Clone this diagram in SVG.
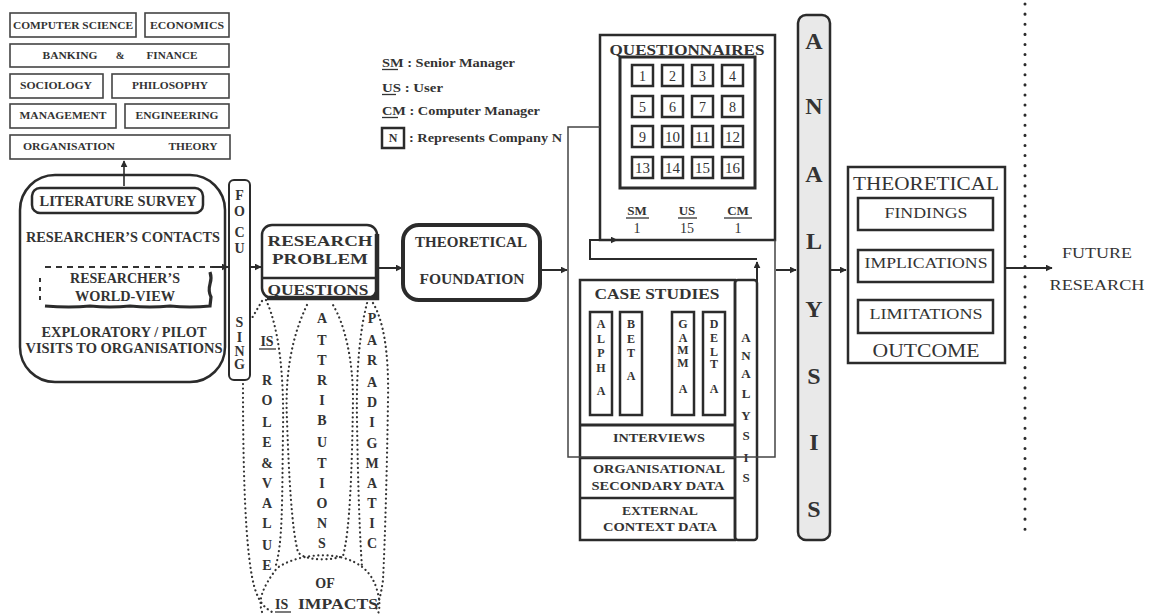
<svg xmlns="http://www.w3.org/2000/svg" width="1150" height="614" viewBox="0 0 1150 614">
<defs>
<marker id="ah" viewBox="0 0 10 10" refX="9" refY="5" markerWidth="7" markerHeight="7" markerUnits="userSpaceOnUse" orient="auto"><path d="M0,0 L10,5 L0,10 z" fill="#2b2b2b"/></marker>
<style>
.t{font-family:"Liberation Serif","Times New Roman",serif;font-weight:bold;fill:#333;text-anchor:middle}
.r{font-family:"Liberation Serif","Times New Roman",serif;font-weight:normal;fill:#333;text-anchor:middle}
.l{text-anchor:start}
.b{fill:none;stroke:#2b2b2b;stroke-width:2.5}
.thin{fill:none;stroke:#444;stroke-width:1.6}
.c{fill:none;stroke:#2b2b2b;stroke-width:2}
.dot{fill:none;stroke:#333;stroke-width:2.2;stroke-dasharray:0.1 4.5;stroke-linecap:round}
.u{stroke:#333;stroke-width:1.3}
</style>
</defs>
<rect width="1150" height="614" fill="#fff"/>

<g id="disciplines">
<rect class="thin" x="10" y="13" width="126" height="24"/>
<text class="t" x="73" y="29" font-size="10.5" textLength="120" lengthAdjust="spacingAndGlyphs">COMPUTER SCIENCE</text>
<rect class="thin" x="145" y="13" width="84" height="24"/>
<text class="t" x="187" y="29" font-size="10.5" textLength="74" lengthAdjust="spacingAndGlyphs">ECONOMICS</text>
<rect class="thin" x="10" y="44" width="219" height="23"/>
<text class="t" x="70" y="59" font-size="10.5" textLength="55" lengthAdjust="spacingAndGlyphs">BANKING</text>
<text class="t" x="120" y="59" font-size="10.5">&amp;</text>
<text class="t" x="172" y="59" font-size="10.5" textLength="51" lengthAdjust="spacingAndGlyphs">FINANCE</text>
<rect class="thin" x="10" y="74" width="93" height="24"/>
<text class="t" x="56" y="89" font-size="10.5" textLength="72" lengthAdjust="spacingAndGlyphs">SOCIOLOGY</text>
<rect class="thin" x="112" y="74" width="117" height="24"/>
<text class="t" x="170" y="89" font-size="10.5" textLength="76" lengthAdjust="spacingAndGlyphs">PHILOSOPHY</text>
<rect class="thin" x="10" y="104" width="106" height="24"/>
<text class="t" x="63" y="119" font-size="10.5" textLength="87" lengthAdjust="spacingAndGlyphs">MANAGEMENT</text>
<rect class="thin" x="125" y="104" width="104" height="24"/>
<text class="t" x="177" y="119" font-size="10.5" textLength="83" lengthAdjust="spacingAndGlyphs">ENGINEERING</text>
<rect class="thin" x="10" y="135" width="220" height="24"/>
<text class="t" x="69" y="150" font-size="10.5" textLength="92" lengthAdjust="spacingAndGlyphs">ORGANISATION</text>
<text class="t" x="193" y="150" font-size="10.5" textLength="49" lengthAdjust="spacingAndGlyphs">THEORY</text>
</g>

<g id="sources">
<rect class="b" x="20" y="175" width="205" height="207" rx="35"/>
<rect class="b" x="32" y="188" width="171" height="25" rx="8"/>
<text class="t" x="118" y="206" font-size="14" textLength="157" lengthAdjust="spacingAndGlyphs">LITERATURE SURVEY</text>
<text class="t" x="123" y="242" font-size="14" textLength="194" lengthAdjust="spacingAndGlyphs">RESEARCHER’S CONTACTS</text>
<path d="M40 278 V304" fill="none" stroke="#333" stroke-width="2" stroke-dasharray="4 5"/>
<path d="M45 267 H214" fill="none" stroke="#333" stroke-width="2.2" stroke-dasharray="6 5"/>
<path d="M210 272 Q212 278 210 284 Q208 291 211 297 L210 306 Q190 308 170 306 Q150 308 130 306 Q110 308 90 306 Q70 308 45 306" fill="none" stroke="#2b2b2b" stroke-width="3.2"/>
<text class="t" x="125" y="283" font-size="14" textLength="110" lengthAdjust="spacingAndGlyphs">RESEARCHER’S</text>
<text class="t" x="125" y="301" font-size="14" textLength="100" lengthAdjust="spacingAndGlyphs">WORLD-VIEW</text>
<text class="t" x="124" y="337" font-size="14" textLength="165" lengthAdjust="spacingAndGlyphs">EXPLORATORY / PILOT</text>
<text class="t" x="124" y="353" font-size="14" textLength="197" lengthAdjust="spacingAndGlyphs">VISITS TO ORGANISATIONS</text>
</g>

<g id="focusing">
<rect class="c" x="229" y="180" width="21" height="200" rx="5"/>
<text class="t" x="239.5" font-size="14"><tspan x="239.5" y="200">F</tspan><tspan x="239.5" y="216">O</tspan><tspan x="239.5" y="237">C</tspan><tspan x="239.5" y="253">U</tspan><tspan x="239.5" y="327">S</tspan><tspan x="239.5" y="342">I</tspan><tspan x="239.5" y="356">N</tspan><tspan x="239.5" y="369">G</tspan></text>
</g>

<g id="research-problem">
<rect class="b" x="262" y="225" width="115" height="73" rx="10"/>
<path d="M377 234 V298 H267" fill="none" stroke="#2b2b2b" stroke-width="4.5"/>
<line x1="262" y1="278" x2="377" y2="278" stroke="#2b2b2b" stroke-width="2.5"/>
<text class="t" x="320" y="246" font-size="14" textLength="105" lengthAdjust="spacingAndGlyphs">RESEARCH</text>
<text class="t" x="320" y="264" font-size="14" textLength="96" lengthAdjust="spacingAndGlyphs">PROBLEM</text>
<text class="t" x="318" y="295" font-size="14" textLength="101" lengthAdjust="spacingAndGlyphs">QUESTIONS</text>
</g>

<g id="is-impacts">
<path class="dot" d="M243 384 C243 450 244 560 256 592 C260 603 265 608 272 612"/>
<path class="dot" d="M266 300 C280 330 284 380 283 430 C282 500 283 545 275 568"/>
<path class="dot" d="M262 301 L252 318"/>
<path class="dot" d="M307 305 C290 340 285 380 287 420 C289 480 292 530 298 552 C305 562 335 560 343 556 C350 530 352 470 353 400 C353 360 345 325 333 305"/>
<path class="dot" d="M367 303 C360 330 356 370 357 420 C358 490 360 540 362 567"/>
<path class="dot" d="M373 303 C383 320 389 350 388 400 C387 470 385 540 383 580 C381 595 378 605 375 612"/>
<path class="dot" d="M262 612 C258 600 262 588 277 568 C295 556 320 553 340 557 C360 562 372 572 377 590 C380 600 380 608 378 614"/>
<text class="t" x="267" y="346" font-size="14">IS</text>
<line class="u" x1="259" y1="349" x2="276" y2="349"/>
<text class="t" font-size="14"><tspan x="267" y="385">R</tspan><tspan x="267" y="405">O</tspan><tspan x="267" y="427">L</tspan><tspan x="267" y="447">E</tspan><tspan x="267" y="468">&amp;</tspan><tspan x="267" y="488">V</tspan><tspan x="267" y="508">A</tspan><tspan x="267" y="528">L</tspan><tspan x="267" y="550">U</tspan><tspan x="267" y="570">E</tspan></text>
<text class="t" font-size="14"><tspan x="322" y="323">A</tspan><tspan x="322" y="345">T</tspan><tspan x="322" y="365">T</tspan><tspan x="322" y="385">R</tspan><tspan x="322" y="405">I</tspan><tspan x="322" y="425">B</tspan><tspan x="322" y="447">U</tspan><tspan x="322" y="468">T</tspan><tspan x="322" y="488">I</tspan><tspan x="322" y="508">O</tspan><tspan x="322" y="528">N</tspan><tspan x="322" y="548">S</tspan></text>
<text class="t" font-size="14"><tspan x="372" y="323">P</tspan><tspan x="372" y="345">A</tspan><tspan x="372" y="365">R</tspan><tspan x="372" y="387">A</tspan><tspan x="372" y="407">D</tspan><tspan x="372" y="427">I</tspan><tspan x="372" y="448">G</tspan><tspan x="372" y="468">M</tspan><tspan x="372" y="488">A</tspan><tspan x="372" y="508">T</tspan><tspan x="372" y="528">I</tspan><tspan x="372" y="548">C</tspan></text>
<text class="t" x="325" y="588" font-size="14">OF</text>
<text class="t l" x="275" y="609" font-size="14">IS</text>
<line class="u" x1="275" y1="612" x2="291" y2="612"/>
<text class="t l" x="298" y="609" font-size="14" textLength="80" lengthAdjust="spacingAndGlyphs">IMPACTS</text>
</g>

<g id="theoretical-foundation">
<rect x="403" y="225" width="137" height="75" rx="16" fill="none" stroke="#2b2b2b" stroke-width="4"/>
<text class="t" x="471" y="247" font-size="14" textLength="112" lengthAdjust="spacingAndGlyphs">THEORETICAL</text>
<text class="t" x="472" y="284" font-size="14" textLength="105" lengthAdjust="spacingAndGlyphs">FOUNDATION</text>
</g>

<g id="legend">
<text class="t l" x="382" y="67" font-size="12" textLength="133" lengthAdjust="spacingAndGlyphs">SM : Senior Manager</text>
<line class="u" x1="382" y1="69.5" x2="398" y2="69.5"/>
<text class="t l" x="382" y="92" font-size="12" textLength="61" lengthAdjust="spacingAndGlyphs">US : User</text>
<line class="u" x1="382" y1="94.5" x2="396" y2="94.5"/>
<text class="t l" x="382" y="115" font-size="12" textLength="158" lengthAdjust="spacingAndGlyphs">CM : Computer Manager</text>
<line class="u" x1="382" y1="117.5" x2="398" y2="117.5"/>
<rect class="b" x="382" y="128" width="22" height="20"/>
<text class="t" x="393" y="142" font-size="12">N</text>
<text class="t l" x="409" y="142" font-size="12" textLength="153" lengthAdjust="spacingAndGlyphs">: Represents Company N</text>
</g>

<g id="questionnaires">
<rect class="b" x="600" y="35" width="175" height="205"/>
<text class="t" x="687" y="55" font-size="14" textLength="155" lengthAdjust="spacingAndGlyphs">QUESTIONNAIRES</text>
<rect x="620" y="57" width="135" height="131" fill="none" stroke="#2b2b2b" stroke-width="3"/>
<g fill="none" stroke="#2b2b2b" stroke-width="2.5">
<rect x="632" y="65" width="21" height="21"/><rect x="662" y="65" width="21" height="21"/><rect x="692" y="65" width="21" height="21"/><rect x="722" y="65" width="21" height="21"/>
<rect x="632" y="96" width="21" height="21"/><rect x="662" y="96" width="21" height="21"/><rect x="692" y="96" width="21" height="21"/><rect x="722" y="96" width="21" height="21"/>
<rect x="632" y="126" width="21" height="21"/><rect x="662" y="126" width="21" height="21"/><rect x="692" y="126" width="21" height="21"/><rect x="722" y="126" width="21" height="21"/>
<rect x="632" y="157" width="21" height="21"/><rect x="662" y="157" width="21" height="21"/><rect x="692" y="157" width="21" height="21"/><rect x="722" y="157" width="21" height="21"/>
</g>
<g class="r" font-size="14">
<text x="642.5" y="81">1</text><text x="672.5" y="81">2</text><text x="702.5" y="81">3</text><text x="732.5" y="81">4</text>
<text x="642.5" y="112">5</text><text x="672.5" y="112">6</text><text x="702.5" y="112">7</text><text x="732.5" y="112">8</text>
<text x="642.5" y="142">9</text><text x="672.5" y="142" textLength="15" lengthAdjust="spacingAndGlyphs">10</text><text x="702.5" y="142" textLength="15" lengthAdjust="spacingAndGlyphs">11</text><text x="732.5" y="142" textLength="15" lengthAdjust="spacingAndGlyphs">12</text>
<text x="642.5" y="173" textLength="15" lengthAdjust="spacingAndGlyphs">13</text><text x="672.5" y="173" textLength="15" lengthAdjust="spacingAndGlyphs">14</text><text x="702.5" y="173" textLength="15" lengthAdjust="spacingAndGlyphs">15</text><text x="732.5" y="173" textLength="15" lengthAdjust="spacingAndGlyphs">16</text>
</g>
<text class="t" x="637" y="215" font-size="13">SM</text>
<line class="u" x1="626" y1="218" x2="649" y2="218"/>
<text class="t" x="687" y="215" font-size="13">US</text>
<line class="u" x1="678" y1="218" x2="697" y2="218"/>
<text class="t" x="738" y="215" font-size="13">CM</text>
<line class="u" x1="724" y1="218" x2="752" y2="218"/>
<text class="r" x="637" y="233" font-size="14">1</text>
<text class="r" x="687" y="233" font-size="14">15</text>
<text class="r" x="738" y="233" font-size="14">1</text>
</g>

<g id="case-studies">
<rect class="b" x="580" y="280" width="155" height="260"/>
<rect class="b" x="735" y="280" width="22" height="260" rx="3"/>
<text class="t" x="657" y="299" font-size="15" textLength="125" lengthAdjust="spacingAndGlyphs">CASE STUDIES</text>
<g fill="none" stroke="#2b2b2b" stroke-width="2.5">
<rect x="590" y="312" width="22" height="103"/><rect x="620" y="312" width="22" height="103"/><rect x="672" y="312" width="22" height="103"/><rect x="703" y="312" width="22" height="103"/>
</g>
<text class="t" font-size="12"><tspan x="601" y="328">A</tspan><tspan x="601" y="343">L</tspan><tspan x="601" y="357">P</tspan><tspan x="601" y="372">H</tspan><tspan x="601" y="395">A</tspan></text>
<text class="t" font-size="12"><tspan x="631" y="328">B</tspan><tspan x="631" y="343">E</tspan><tspan x="631" y="357">T</tspan><tspan x="631" y="380">A</tspan></text>
<text class="t" font-size="12"><tspan x="683" y="328">G</tspan><tspan x="683" y="342">A</tspan><tspan x="683" y="354">M</tspan><tspan x="683" y="367">M</tspan><tspan x="683" y="393">A</tspan></text>
<text class="t" font-size="12"><tspan x="714" y="328">D</tspan><tspan x="714" y="342">E</tspan><tspan x="714" y="356">L</tspan><tspan x="714" y="368">T</tspan><tspan x="714" y="393">A</tspan></text>
<line x1="580" y1="425" x2="735" y2="425" stroke="#2b2b2b" stroke-width="3"/>
<line x1="580" y1="458" x2="735" y2="458" stroke="#2b2b2b" stroke-width="2.5"/>
<line x1="580" y1="498" x2="735" y2="498" stroke="#2b2b2b" stroke-width="2.5"/>
<text class="t" x="659" y="442" font-size="12" textLength="92" lengthAdjust="spacingAndGlyphs">INTERVIEWS</text>
<text class="t" x="659" y="473" font-size="12" textLength="132" lengthAdjust="spacingAndGlyphs">ORGANISATIONAL</text>
<text class="t" x="658" y="490" font-size="12" textLength="133" lengthAdjust="spacingAndGlyphs">SECONDARY DATA</text>
<text class="t" x="660" y="515" font-size="12" textLength="76" lengthAdjust="spacingAndGlyphs">EXTERNAL</text>
<text class="t" x="660" y="531" font-size="12" textLength="114" lengthAdjust="spacingAndGlyphs">CONTEXT DATA</text>
<text class="t" font-size="13"><tspan x="746" y="342">A</tspan><tspan x="746" y="360">N</tspan><tspan x="746" y="378">A</tspan><tspan x="746" y="398">L</tspan><tspan x="746" y="420">Y</tspan><tspan x="746" y="440">S</tspan><tspan x="746" y="462">I</tspan><tspan x="746" y="482">S</tspan></text>
</g>

<g id="analysis">
<rect x="798" y="15" width="32" height="525" rx="8" fill="#e9e9e9" stroke="#2b2b2b" stroke-width="2.5"/>
<text class="t" font-size="24"><tspan x="814" y="49">A</tspan><tspan x="814" y="114">N</tspan><tspan x="814" y="182">A</tspan><tspan x="814" y="249">L</tspan><tspan x="814" y="317">Y</tspan><tspan x="814" y="384">S</tspan><tspan x="814" y="450">I</tspan><tspan x="814" y="517">S</tspan></text>
</g>

<g id="outcome">
<rect class="b" x="848" y="167" width="157" height="196"/>
<text class="r" x="926" y="190" font-size="18" textLength="146" lengthAdjust="spacingAndGlyphs">THEORETICAL</text>
<rect class="b" x="858" y="198" width="135" height="32"/>
<text class="r" x="926" y="218" font-size="15" textLength="83" lengthAdjust="spacingAndGlyphs">FINDINGS</text>
<rect class="b" x="858" y="250" width="135" height="32"/>
<text class="r" x="926" y="268" font-size="15" textLength="123" lengthAdjust="spacingAndGlyphs">IMPLICATIONS</text>
<rect class="b" x="858" y="300" width="135" height="33"/>
<text class="r" x="926" y="319" font-size="15" textLength="113" lengthAdjust="spacingAndGlyphs">LIMITATIONS</text>
<text class="r" x="926" y="357" font-size="18" textLength="107" lengthAdjust="spacingAndGlyphs">OUTCOME</text>
</g>

<g id="future-research">
<text class="r" x="1097" y="258" font-size="15" textLength="70" lengthAdjust="spacingAndGlyphs">FUTURE</text>
<text class="r" x="1097" y="290" font-size="15" textLength="95" lengthAdjust="spacingAndGlyphs">RESEARCH</text>
</g>

<g id="connectors" fill="none" stroke="#2b2b2b" stroke-width="2">
<path d="M124 186 V161" marker-end="url(#ah)" stroke-width="1.6"/>
<path d="M212 267 H228" marker-end="url(#ah)"/>
<path d="M250 267 H261" marker-end="url(#ah)"/>
<path d="M378 268 H402" marker-end="url(#ah)"/>
<path d="M541 270 H567" marker-end="url(#ah)"/>
<path d="M600 127 H568 V457 H775 V240" stroke-width="1.5" stroke="#444"/>
<path d="M757 282 V262" marker-end="url(#ah)"/>
<path d="M757 259 H590 V240 H617" marker-end="url(#ah)"/>
<path d="M776 270 H796" marker-end="url(#ah)"/>
<path d="M831 270 H846" marker-end="url(#ah)"/>
<path d="M1005 268 H1052" marker-end="url(#ah)"/>
<path d="M1025 4 V535" stroke-width="3" stroke-dasharray="0.1 10" stroke-linecap="round"/>
</g>
</svg>
